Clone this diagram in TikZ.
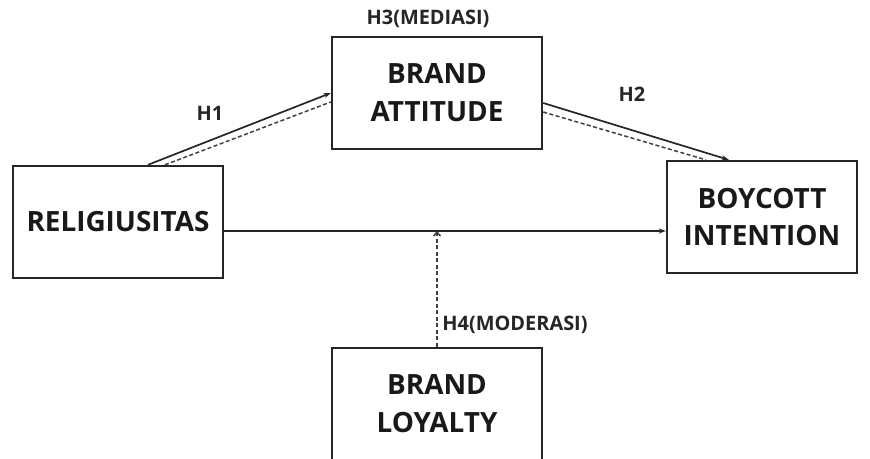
\documentclass[tikz,border=0pt]{standalone}
\usepackage{fontspec}
\setmainfont{Open Sans}
\usetikzlibrary{arrows.meta,calc}
\tikzset{
  box/.style={draw=black!85, line width=2.4bp, minimum width=210bp, minimum height=112bp,
    inner sep=0pt, align=center, font=\bfseries\fontsize{28}{38}\selectfont, text=black!90},
  lbl/.style={inner sep=0pt, font=\bfseries\fontsize{20}{22}\selectfont, text=black!85},
  solidarrow/.style={draw=black!85, line width=1.7bp, -{Stealth[length=7bp,width=5bp]}},
  dasharrow/.style={draw=black!75, line width=1.5bp, dash pattern=on 4bp off 2.5bp},
}
\begin{document}
\begin{tikzpicture}[x=1bp,y=-1bp]
\useasboundingbox (0,0) rectangle (870,459);
\fill[white] (0,0) rectangle (870,459);
\begin{scope}
\clip (0,0) rectangle (870,459);
\node[box] (rel) at (118,222) {RELIGIUSITAS};
\node[box] (att) at (437,93) {BRAND\\ATTITUDE};
\node[box, minimum width=190bp] (boy) at (762,217) {BOYCOTT\\INTENTION};
\node[box] (loy) at (437,404) {BRAND\\LOYALTY};
\end{scope}

\node[lbl] (h3) at (428,19) {H3(MEDIASI)};
\node[lbl] (h1) at (210,113) {H1};
\node[lbl] (h2) at (632,94) {H2};
\node[lbl] (h4) at (515,325) {H4(MODERASI)};

% H1
\draw[solidarrow] ([xshift=30bp]rel.north) -- (att.west);
\draw[dasharrow] ([xshift=47bp]rel.north) -- ([yshift=-9bp]att.west);
% H2
\draw[solidarrow] ([yshift=-10bp]att.east) -- ([xshift=63bp]boy.north west);
\draw[dasharrow] ([yshift=-19bp]att.east) -- ([xshift=40bp]boy.north west);
% direct
\coordinate (hs) at ([yshift=-9bp]rel.east);
\draw[solidarrow] (hs) -- (boy.west |- hs);
% moderation
\coordinate (mod) at (loy.north |- hs);
\draw[dasharrow, -{Straight Barb[length=4bp,width=7bp]}] (loy.north) -- (mod);
\end{tikzpicture}
\end{document}
